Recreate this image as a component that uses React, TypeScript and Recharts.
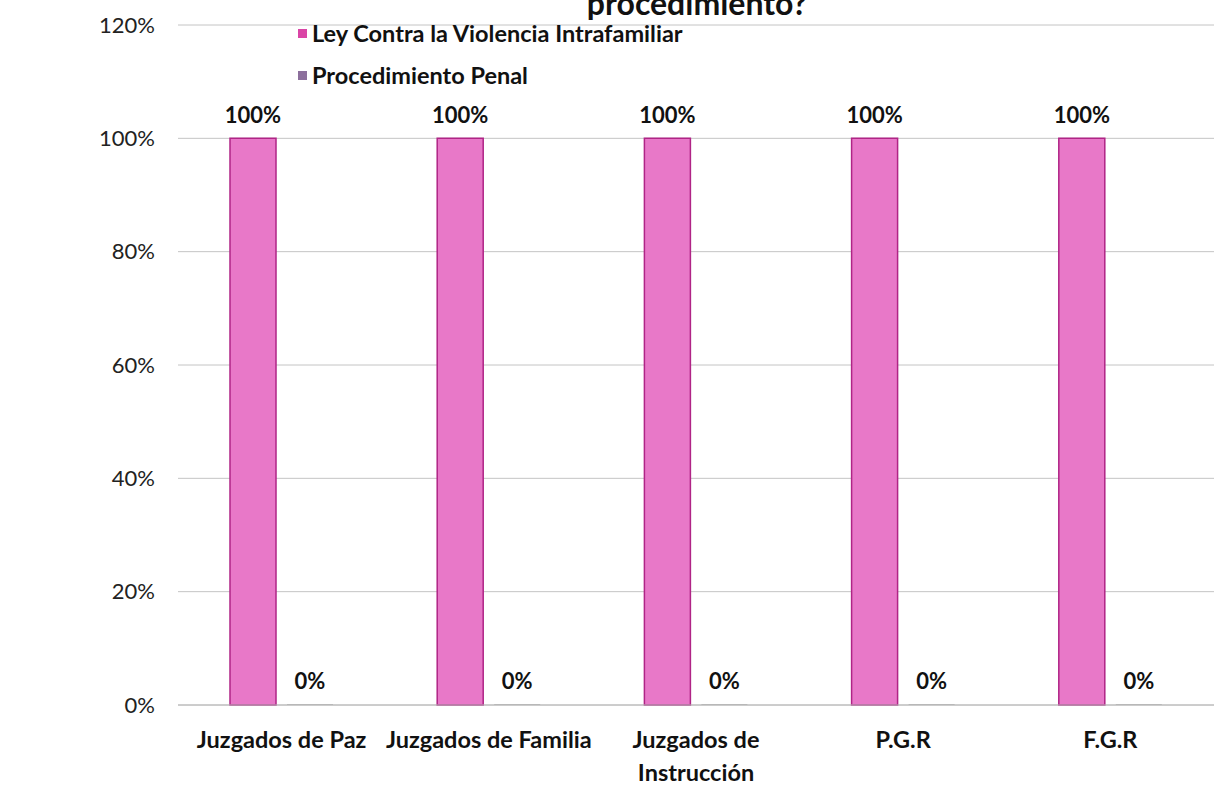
import React from 'react';
import { BarChart, Bar, XAxis, YAxis, CartesianGrid, LabelList, Legend, Customized } from 'recharts';

const categories = ['Juzgados de Paz', 'Juzgados de Familia', 'Juzgados de Instrucción', 'P.G.R', 'F.G.R'];
const leyValues = [1, 1, 1, 1, 1];
const penalValues = [0, 0, 0, 0, 0];
const yTicks = [0, 0.2, 0.4, 0.6, 0.8, 1.0, 1.2];
const seriesNames = ['Ley Contra la Violencia Intrafamiliar', 'Procedimiento Penal'];
const legendColors = ['#DA45A6', '#8C6F9C'];
const titleText = 'procedimiento?';

const data = categories.map((c, i) => ({ name: c, ley: leyValues[i], penal: penalValues[i] }));

const FONT = 'Lato, "Open Sans", sans-serif';
const pct = (v: number) => `${Math.round(v * 100)}%`;

const XTick = (props: any) => {
  const { x, y, payload } = props;
  const label: string = payload.value;
  let lines = [label];
  if (label.length > 20) {
    const idx = label.lastIndexOf(' ');
    lines = [label.slice(0, idx), label.slice(idx + 1)];
  }
  return (
    <text x={x} y={y + 35} textAnchor="middle" fontFamily={FONT} fontWeight="bold" fontSize={23.5} fill="#111">
      {lines.map((l, i) => (
        <tspan key={i} x={x} dy={i === 0 ? 0 : 33}>{l}</tspan>
      ))}
    </text>
  );
};

const LegendContent = () => (
  <div style={{ fontFamily: FONT, fontWeight: 'bold', fontSize: 23.5, color: '#111' }}>
    {seriesNames.map((n, i) => (
      <div key={n} style={{ height: 42, display: 'flex', alignItems: 'center', whiteSpace: 'nowrap' }}>
        <span style={{ display: 'inline-block', width: 9, height: 9, background: legendColors[i], marginRight: 5 }} />
        <span>{n}</span>
      </div>
    ))}
  </div>
);

const Title = () => (
  <text x={697} y={15} textAnchor="middle" fontFamily={FONT} fontWeight="bold" fontSize={32} fill="#111">
    {titleText}
  </text>
);

const labelStyle = { fontFamily: FONT, fontWeight: 'bold', fontSize: 22, fill: '#111' };

export default function App() {
  return (
    <div style={{ position: 'absolute', top: 0, left: 0, width: 1220, height: 803, background: '#fff', overflow: 'hidden' }}>
      <BarChart
        width={1220}
        height={803}
        data={data}
        margin={{ top: 25, right: 6, bottom: 8, left: 0 }}
        barSize={46}
        barGap={11}
      >
        <CartesianGrid vertical={false} stroke="#c4c4c4" />
        <XAxis
          dataKey="name"
          height={90}
          tickLine={false}
          axisLine={{ stroke: '#b8b8b8' }}
          tick={<XTick />}
          interval={0}
        />
        <YAxis
          width={178}
          domain={[0, 1.2]}
          ticks={yTicks}
          tickFormatter={pct}
          axisLine={false}
          tickLine={false}
          tickMargin={17}
          tick={{ fontFamily: FONT, fontSize: 22, fill: '#222' }}
        />
        <Legend
          layout="vertical"
          align="center"
          verticalAlign="middle"
          wrapperStyle={{ top: 12, left: 298, width: 'auto', height: 'auto' }}
          content={<LegendContent />}
        />
        <Bar dataKey="ley" name={seriesNames[0]} fill="#E878C8" stroke="#B02486" strokeWidth={1.5} isAnimationActive={false}>
          <LabelList dataKey="ley" position="top" offset={15} formatter={pct} style={labelStyle} />
        </Bar>
        <Bar dataKey="penal" name={seriesNames[1]} fill="#b8b8b8" minPointSize={1} isAnimationActive={false}>
          <LabelList dataKey="penal" position="top" offset={15} formatter={pct} style={labelStyle} />
        </Bar>
        <Customized component={Title} />
      </BarChart>
    </div>
  );
}
